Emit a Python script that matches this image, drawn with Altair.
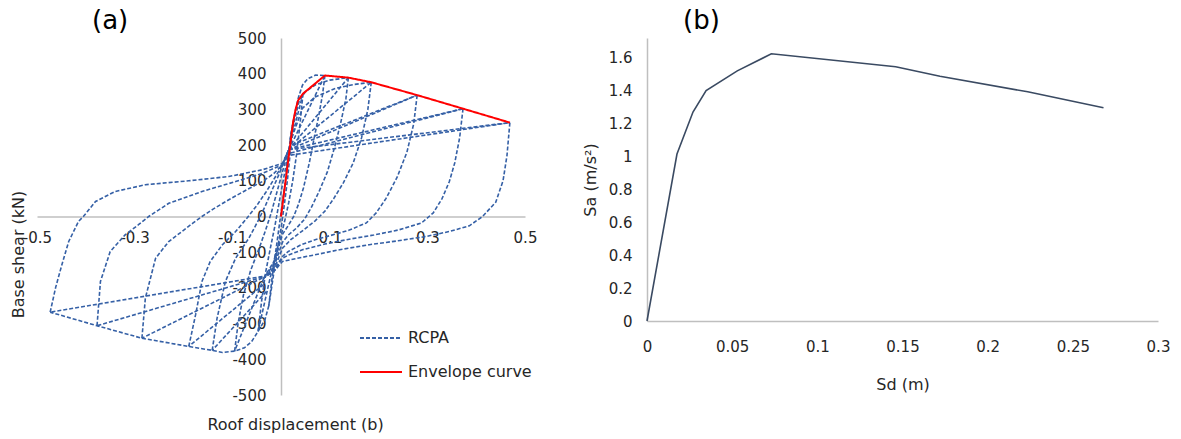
import altair as alt
import pandas as pd

# ---------------- Panel (a): RCPA hysteresis (roof displacement, base shear kN)
# positive-side unloading curves (from positive peak down to lower pinch)
U1 = [(0.025, 266), (0.019, 180), (0.013, 100), (0.007, 35), (0.001, -25), (-0.006, -80)]
U2 = [(0.045, 344), (0.039, 260), (0.032, 175), (0.024, 100), (0.016, 40), (0.008, -10), (0.0, -55), (-0.012, -110)]
U3 = [(0.090, 395), (0.085, 340), (0.077, 280), (0.068, 220), (0.058, 150), (0.046, 80), (0.036, 35), (0.026, 0),
      (0.015, -25), (0.003, -50), (-0.012, -120), (-0.035, -172)]
U4 = [(0.138, 389), (0.133, 330), (0.122, 260), (0.110, 195), (0.095, 125), (0.078, 70), (0.062, 25), (0.048, -8),
      (0.032, -32), (0.015, -52), (0.003, -72), (-0.012, -130), (-0.035, -172)]
U5 = [(0.185, 376), (0.178, 300), (0.165, 220), (0.148, 150), (0.128, 95), (0.108, 50), (0.090, 15), (0.070, -12),
      (0.044, -40), (0.020, -65), (0.003, -89), (-0.012, -140), (-0.035, -172)]
U6 = [(0.279, 340), (0.272, 260), (0.258, 180), (0.238, 110), (0.215, 50), (0.195, 10), (0.175, -18), (0.140, -38),
      (0.110, -50), (0.070, -65), (0.040, -80), (0.015, -98), (0.003, -112), (-0.012, -145), (-0.035, -172)]
U7 = [(0.373, 302), (0.366, 220), (0.356, 150), (0.345, 98), (0.330, 50), (0.312, 10), (0.288, -18), (0.240, -38),
      (0.190, -52), (0.146, -62), (0.090, -77), (0.044, -93), (0.015, -108), (0.003, -117), (-0.012, -148), (-0.035, -172)]
U8 = [(0.469, 263), (0.463, 170), (0.455, 100), (0.440, 40), (0.413, 0), (0.386, -26), (0.345, -42), (0.297, -56),
      (0.240, -68), (0.181, -79), (0.120, -93), (0.078, -105), (0.030, -118), (0.003, -126), (-0.012, -150), (-0.035, -172)]

# negative-side reloading lines (lower pinch -> negative peak)
LN1 = [(-0.006, -80), (-0.025, -250)]
LN2 = [(-0.012, -110), (-0.047, -322)]
LN3 = [(-0.035, -172), (-0.095, -377)]
LN4 = [(-0.030, -210), (-0.141, -375)]
LN5 = [(-0.035, -190), (-0.189, -364)]
LN6 = [(-0.038, -172), (-0.285, -341)]
LN7 = [(-0.038, -170), (-0.377, -306)]
LN8 = [(-0.038, -168), (-0.473, -268)]

# negative backbone (first excursions)
NB = [(-0.025, -250), (-0.033, -290), (-0.047, -322), (-0.060, -350), (-0.075, -368), (-0.095, -377), (-0.120, -381),
      (-0.141, -375), (-0.189, -364), (-0.285, -341), (-0.377, -306), (-0.473, -268)]

# negative-side unloading curves (from negative peak up to upper pinch)
D1 = [(-0.025, -250), (-0.018, -170), (-0.010, -90), (-0.003, -20), (0.004, 50), (0.010, 110), (0.016, 187)]
D2 = [(-0.047, -322), (-0.040, -240), (-0.032, -160), (-0.022, -90), (-0.013, -30), (-0.005, 30), (0.003, 90),
      (0.010, 140), (0.016, 187)]
D3 = [(-0.095, -377), (-0.088, -300), (-0.077, -220), (-0.062, -150), (-0.045, -90), (-0.032, -40), (-0.020, 10),
      (-0.010, 60), (0.000, 110), (0.008, 150), (0.016, 187)]
D4 = [(-0.141, -375), (-0.131, -285), (-0.114, -182), (-0.093, -117), (-0.066, -61), (-0.048, -15), (-0.032, 30),
      (-0.018, 75), (-0.005, 115), (0.005, 150), (0.016, 187)]
D5 = [(-0.189, -364), (-0.175, -275), (-0.162, -182), (-0.145, -126), (-0.120, -79), (-0.093, -42), (-0.070, -5),
      (-0.050, 30), (-0.030, 70), (-0.012, 110), (0.003, 145), (0.016, 187)]
D6 = [(-0.285, -341), (-0.278, -229), (-0.257, -117), (-0.230, -70), (-0.203, -42), (-0.180, -18), (-0.162, 0),
      (-0.140, 20), (-0.107, 47), (-0.070, 75), (-0.038, 98), (-0.015, 120), (0.003, 145), (0.016, 187)]
D7 = [(-0.377, -306), (-0.370, -182), (-0.350, -98), (-0.319, -51), (-0.292, -23), (-0.271, 0), (-0.230, 37),
      (-0.162, 70), (-0.093, 98), (-0.038, 121), (0.003, 145), (0.016, 187)]
D8 = [(-0.473, -268), (-0.462, -200), (-0.449, -135), (-0.435, -70), (-0.415, -14), (-0.405, 0), (-0.380, 42),
      (-0.340, 70), (-0.278, 89), (-0.189, 100), (-0.107, 112), (-0.038, 131), (0.003, 149), (0.016, 187)]

# positive-side reloading lines (upper pinch -> positive peak)
LP1 = [(0.016, 187), (0.025, 266)]
LP2 = [(0.016, 187), (0.045, 344)]
LP3 = [(0.016, 187), (0.090, 395)]
LP4 = [(0.016, 187), (0.138, 389)]
LP5 = [(0.016, 187), (0.185, 376)]
LP6 = [(0.016, 187), (0.279, 340)]
LP7 = [(0.016, 187), (0.373, 302)]
LP8 = [(0.016, 187), (0.469, 263)]
LP6B = [(0.022, 200), (0.279, 340)]
LP7B = [(0.020, 178), (0.373, 302)]
LP8B = [(0.020, 172), (0.469, 263)]

# curved first-loading paths above the envelope
PC3 = [(0.020, 230), (0.030, 300), (0.036, 335), (0.044, 368), (0.055, 386), (0.071, 396), (0.090, 395)]
PC4 = [(0.018, 215), (0.037, 322), (0.050, 350), (0.071, 369), (0.100, 382), (0.138, 389)]
PC5 = [(0.018, 205), (0.044, 303), (0.070, 335), (0.112, 359), (0.150, 370), (0.185, 376)]

# envelope curve
ENV = [(0.0, 0), (0.025, 266), (0.030, 300), (0.035, 325), (0.045, 344), (0.090, 395), (0.138, 389),
       (0.185, 376), (0.279, 340), (0.373, 302), (0.469, 263)]

rcpa_paths = {
    "U1": U1, "U2": U2, "U3": U3, "U4": U4, "U5": U5, "U6": U6, "U7": U7, "U8": U8,
    "LN1": LN1, "LN2": LN2, "LN3": LN3, "LN4": LN4, "LN5": LN5, "LN6": LN6, "LN7": LN7, "LN8": LN8,
    "NB": NB,
    "D1": D1, "D2": D2, "D3": D3, "D4": D4, "D5": D5, "D6": D6, "D7": D7, "D8": D8,
    "LP1": LP1, "LP2": LP2, "LP3": LP3, "LP4": LP4, "LP5": LP5, "LP6": LP6, "LP7": LP7, "LP8": LP8,
    "LP6B": LP6B, "LP7B": LP7B, "LP8B": LP8B,
    "PC3": PC3, "PC4": PC4, "PC5": PC5,
}

rows = []
for name, pts in rcpa_paths.items():
    for i, (d, v) in enumerate(pts):
        rows.append({"d": d, "v": v, "seg": name, "ord": i, "series": "RCPA"})
df_rcpa = pd.DataFrame(rows)
df_env = pd.DataFrame([{"d": d, "v": v, "seg": "ENV", "ord": i, "series": "Envelope curve"}
                       for i, (d, v) in enumerate(ENV)])

# ---------------- Panel (b): capacity spectrum
SD = [0.0, 0.0176, 0.027, 0.0347, 0.053, 0.073, 0.146, 0.172, 0.2235, 0.268]
SA = [0.0, 1.015, 1.27, 1.40, 1.52, 1.624, 1.545, 1.488, 1.393, 1.296]
df_b = pd.DataFrame({"sd": SD, "sa": SA, "ord": list(range(len(SD)))})

X_TICKS_A = [-0.5, -0.3, -0.1, 0.1, 0.3, 0.5]
Y_TICKS_A = [-500, -400, -300, -200, -100, 0, 100, 200, 300, 400, 500]
X_TICKS_B = [0, 0.05, 0.1, 0.15, 0.2, 0.25, 0.3]
Y_TICKS_B = [0, 0.2, 0.4, 0.6, 0.8, 1.0, 1.2, 1.4, 1.6]

FONT = "DejaVu Sans"
AXIS_GRAY = "#BFBFBF"
TXT = "#262626"
WA, HA = 488, 357
WB, HB = 511, 283

xa = alt.X("d:Q", scale=alt.Scale(domain=[-0.5, 0.5], nice=False, zero=False),
           axis=alt.Axis(values=X_TICKS_A, offset=-HA / 2, ticks=False, grid=False,
                         domainColor=AXIS_GRAY, domainWidth=1.5, labelPadding=14,
                         labelFontSize=15, labelFont=FONT, labelColor=TXT,
                         labelExpr="datum.value < 0 ? '-' + format(-datum.value, '.1f') : format(datum.value, '.1f')",
                         labelFlush=False, labelOverlap=False,
                         title="Roof displacement (b)", titleFont=FONT, titleFontSize=16,
                         titleFontWeight="normal", titleColor=TXT,
                         titleX=258, titleY=208, titleAlign="center", titleBaseline="middle"))
ya = alt.Y("v:Q", scale=alt.Scale(domain=[-500, 500], nice=False, zero=False),
           axis=alt.Axis(values=Y_TICKS_A, offset=-WA / 2, ticks=False, grid=False,
                         domainColor=AXIS_GRAY, domainWidth=1.5, labelPadding=15,
                         labelFontSize=15, labelFont=FONT, labelColor=TXT,
                         labelExpr="datum.value < 0 ? '-' + format(-datum.value, 'd') : format(datum.value, 'd')",
                         labelOverlap=False,
                         title="Base shear (kN)", titleFont=FONT, titleFontSize=16,
                         titleFontWeight="normal", titleColor=TXT,
                         titleX=-WA / 2 - 19, titleY=216, titleAlign="center", titleBaseline="middle"))

cscale = alt.Scale(domain=["RCPA", "Envelope curve"], range=["#3560A6", "#FF0000"])
dscale = alt.Scale(domain=["RCPA", "Envelope curve"], range=[[4, 2], [1, 0]])
leg = alt.Legend(title=None, orient="none", legendX=322, legendY=278, symbolType="stroke",
                 symbolSize=1764, symbolStrokeWidth=1.8, labelFontSize=16, labelFont=FONT,
                 labelColor=TXT, rowPadding=4, labelOffset=5)

blue = alt.Chart(df_rcpa).mark_line(strokeWidth=1.6).encode(
    x=xa, y=ya, detail="seg:N", order="ord:Q",
    color=alt.Color("series:N", scale=cscale, legend=leg),
    strokeDash=alt.StrokeDash("series:N", scale=dscale, legend=leg),
)
red = alt.Chart(df_env).mark_line(strokeWidth=2).encode(
    x=xa, y=ya, detail="seg:N", order="ord:Q",
    color=alt.Color("series:N", scale=cscale, legend=leg),
    strokeDash=alt.StrokeDash("series:N", scale=dscale, legend=leg),
)
panel_a = alt.layer(blue, red).properties(
    width=WA, height=HA,
    title=alt.TitleParams("(a)", fontSize=26, font=FONT, fontWeight="normal", color="#000000",
                          anchor="start", frame="group", dx=55, dy=9, offset=6),
)

panel_b = alt.Chart(df_b).mark_line(strokeWidth=1.6, color="#3A4A62").encode(
    x=alt.X("sd:Q", scale=alt.Scale(domain=[0, 0.3], nice=False),
            axis=alt.Axis(values=X_TICKS_B, format="~g", ticks=False, grid=False,
                          domainColor=AXIS_GRAY, domainWidth=1.5, labelPadding=18,
                          labelFontSize=15, labelFont=FONT, labelColor=TXT, labelFlush=False,
                          title="Sd (m)", titleFont=FONT, titleFontSize=16, titleFontWeight="normal",
                          titleColor=TXT, titlePadding=22)),
    y=alt.Y("sa:Q", scale=alt.Scale(domain=[0, 1.72], nice=False),
            axis=alt.Axis(values=Y_TICKS_B, format="~g", ticks=False, grid=False,
                          domainColor=AXIS_GRAY, domainWidth=1.5, labelPadding=15,
                          labelFontSize=15, labelFont=FONT, labelColor=TXT,
                          title="Sa (m/s²)", titleFont=FONT, titleFontSize=16, titleFontWeight="normal",
                          titleColor=TXT, titlePadding=10)),
    order="ord:Q",
).properties(
    width=WB, height=HB,
    title=alt.TitleParams("(b)", fontSize=26, font=FONT, fontWeight="normal", color="#000000",
                          anchor="start", frame="group", dx=36, dy=2, offset=6),
)

chart = alt.hconcat(panel_a, panel_b, spacing=45).properties(
    padding={"left": 10, "top": 8, "right": 5, "bottom": 2}
).configure(background="white").configure_view(stroke="transparent", strokeWidth=0)

chart.save("out.html", embed_options={"renderer": "svg", "actions": False})
